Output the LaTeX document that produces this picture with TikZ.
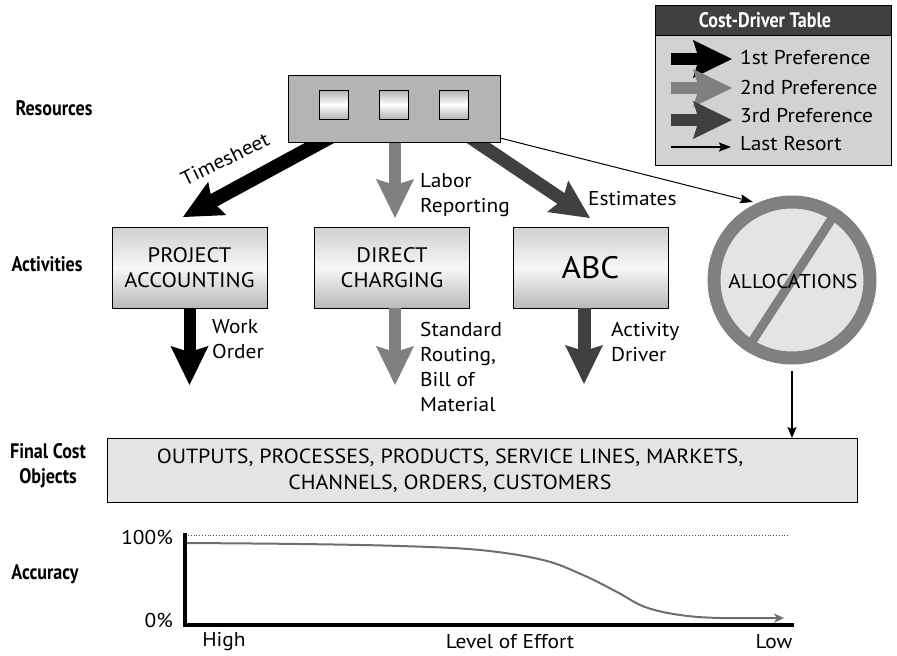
\documentclass[tikz,border=0pt]{standalone}
\usepackage{fontspec}
\setmainfont[FakeStretch=1.07]{PT Sans}
\newfontfamily\condfont[FakeStretch=0.86]{PT Sans Bold}
\usetikzlibrary{arrows.meta}
\definecolor{cA}{HTML}{000000}
\definecolor{cB}{HTML}{808080}
\definecolor{cC}{HTML}{404040}
\definecolor{legbg}{HTML}{D2D2D2}
\definecolor{resbg}{HTML}{B4B4B4}
\definecolor{finbg}{HTML}{E4E4E4}
\definecolor{curve}{HTML}{6E6E6E}
\begin{document}
\begin{tikzpicture}[x=1pt,y=-1pt,
  fatarrow/.style={line width=#1, -{Stealth[length=39pt,width=38pt,inset=6pt,line width=0pt]}},
  fatarrow/.default=13pt,
  thinarrow/.style={line width=1pt, -{Stealth[length=12pt,width=9pt,inset=2pt]}},
  rowlabel/.style={font=\condfont\fontsize{21}{25}\selectfont, align=center},
  txt/.style={font=\fontsize{20}{25}\selectfont, align=left, anchor=west, inner sep=0pt},
  abox/.style={draw=black, line width=0.8pt, top color=gray!38, bottom color=gray!55, middle color=gray!6,
    minimum width=155pt, minimum height=81pt, align=center, inner sep=0pt},
  sq/.style={draw=black, line width=0.8pt, top color=gray!60, bottom color=gray!60, middle color=white,
    minimum width=29pt, minimum height=29pt, inner sep=0pt},
]
\useasboundingbox (0,0) rectangle (897,656);

% ---------- legend ----------
\node[draw=black, line width=0.8pt, fill=legbg, minimum width=236pt, minimum height=160pt, anchor=north west, inner sep=0pt] (legend) at (655,5) {};
\node[draw=black, line width=0.8pt, fill=cC, minimum width=236pt, minimum height=30pt, anchor=north west, inner sep=0pt] (leghead) at (655,5) {};
\node[text=white, font=\condfont\fontsize{21}{25}\selectfont] (legtitle) at (765,20) {Cost-Driver Table};
\coordinate (l1s) at (671,59);  \coordinate (l1e) at (732,59);
\coordinate (l2s) at (671,88);  \coordinate (l2e) at (732,88);
\coordinate (l3s) at (671,120); \coordinate (l3e) at (732,120);
\coordinate (l4s) at (671,147); \coordinate (l4e) at (731,147);
\draw[fatarrow=12pt, draw=cA, fill=cA] (l1s) -- (l1e);
\draw[fatarrow=12pt, draw=cB, fill=cB] (l2s) -- (l2e);
\draw[fatarrow=12pt, draw=cC, fill=cC] (l3s) -- (l3e);
\draw[thinarrow, line width=1.6pt] (l4s) -- (l4e);
\node[txt] (t1) at (740,57) {1st Preference};
\node[txt] (t2) at (740,87) {2nd Preference};
\node[txt] (t3) at (740,116) {3rd Preference};
\node[txt] (t4) at (740,144) {Last Resort};

% ---------- row labels ----------
\node[rowlabel] (lres) at (54,108) {Resources};
\node[rowlabel] (lact) at (47,264) {Activities};
\node[rowlabel] (lfin) at (48,466) {Final Cost\\Objects};
\node[rowlabel] (lacc) at (45,574) {Accuracy};

% ---------- activities ----------
\node[abox, font=\fontsize{21}{25}\selectfont] (pa) at (189.5,267.5) {PROJECT\\ACCOUNTING};
\node[abox, font=\fontsize{21}{25}\selectfont] (dc) at (392,267.5) {DIRECT\\CHARGING};
\node[abox, font=\fontsize{31}{35}\selectfont] (abc) at (590.5,267.5) {ABC};

% ---------- arrows from resources (drawn under the box) ----------
\coordinate (tsS) at (347,128);  \coordinate (tsE) at (183,217);
\coordinate (lrS) at (395,128);  \coordinate (lrE) at (395,218);
\coordinate (esS) at (456,128);  \coordinate (esE) at (590,218);
\coordinate (lsS) at (500,138);  \coordinate (lsE) at (753,202);
\draw[fatarrow=14pt, draw=cA, fill=cA] (tsS) -- (tsE);
\draw[fatarrow=12pt, draw=cB, fill=cB] (lrS) -- (lrE);
\draw[fatarrow=13pt, draw=cC, fill=cC] (esS) -- (esE);

% ---------- resources ----------
\node[draw=black, line width=0.8pt, fill=resbg, minimum width=212pt, minimum height=67pt, inner sep=0pt] (res) at (394,108.5) {};
\node[sq] (sq1) at (333.5,104.5) {};
\node[sq] (sq2) at (393.5,104.5) {};
\node[sq] (sq3) at (453.5,104.5) {};
\draw[line width=1pt, -{Stealth[length=13pt,width=9pt,inset=2pt]}] (lsS) -- (lsE);

\node[font=\fontsize{20}{24}\selectfont, rotate=26] (ts) at (225,159) {Timesheet};
\node[txt] (lr) at (420,195) {Labor\\Reporting};
\node[txt] (es) at (588,199) {Estimates};

% ---------- arrows down from activities ----------
\coordinate (paE) at (189.5,385);
\coordinate (dcE) at (395,385);
\coordinate (abcE) at (584,384);
\draw[fatarrow=12pt, draw=cA, fill=cA] (pa.south) -- (paE);
\draw[fatarrow=12pt, draw=cB, fill=cB] (dc.south -| dcE) -- (dcE);
\draw[fatarrow=13pt, draw=cC, fill=cC] (abc.south -| abcE) -- (abcE);
\node[txt] (wo) at (212,339) {Work\\Order};
\node[txt] (sr) at (420,367) {Standard\\Routing,\\Bill of\\Material};
\node[txt] (ad) at (611,342) {Activity\\Driver};

% ---------- final cost objects ----------
\node[draw=black, line width=0.8pt, fill=finbg, minimum width=750pt, minimum height=64pt, anchor=north west, inner sep=0pt] (fin) at (107,438) {};
\node[font=\fontsize{20.5}{26}\selectfont, align=center] (fintxt) at (450,471) {OUTPUTS, PROCESSES, PRODUCTS, SERVICE LINES, MARKETS,\\CHANNELS, ORDERS, CUSTOMERS};

% ---------- allocations ----------
\node[circle, draw=cB, line width=13pt, fill=finbg, minimum size=156pt, inner sep=0pt] (alloc) at (792,280) {};
\draw[cB, line width=9pt] (alloc.57) -- (alloc.237);
\node[font=\fontsize{20}{24}\selectfont] (alloctxt) at (793,281) {ALLOCATIONS};
\draw[line width=1.5pt, -{Stealth[length=11pt,width=9pt,inset=2pt]}, shorten <=6.5pt] (alloc.south) -- (alloc.south |- fin.north);

% ---------- accuracy chart ----------
\coordinate (ax0) at (185,533);
\coordinate (ax1) at (185,625);
\coordinate (ax2) at (794,625);
\coordinate (dotS) at (188,535);
\coordinate (dotE) at (790,535);
\draw[black!70, line width=0.8pt, dotted] (dotS) -- (dotE);
\draw[line width=4pt, line join=miter] (ax0) -- (ax1) -- (ax2);
\draw[curve, line width=2pt, -{Stealth[length=10pt,width=9pt,inset=3pt]}]
  plot[smooth, tension=0.6] coordinates {(187,543) (300,544) (400,546) (480,550) (543,560) (583,575) (617,592) (645,607) (680,615) (720,618) (784,618)};
\node[font=\fontsize{20}{24}\selectfont, anchor=east, inner sep=0pt] (p100) at (173,537) {100\%};
\node[font=\fontsize{20}{24}\selectfont, anchor=east, inner sep=0pt] (p0) at (173,620) {0\%};
\node[font=\fontsize{20}{24}\selectfont] (hi) at (224,642) {High};
\node[font=\fontsize{20}{24}\selectfont] (loe) at (510,642) {Level of Effort};
\node[font=\fontsize{20}{24}\selectfont] (lo) at (774,642) {Low};
\end{tikzpicture}
\end{document}
